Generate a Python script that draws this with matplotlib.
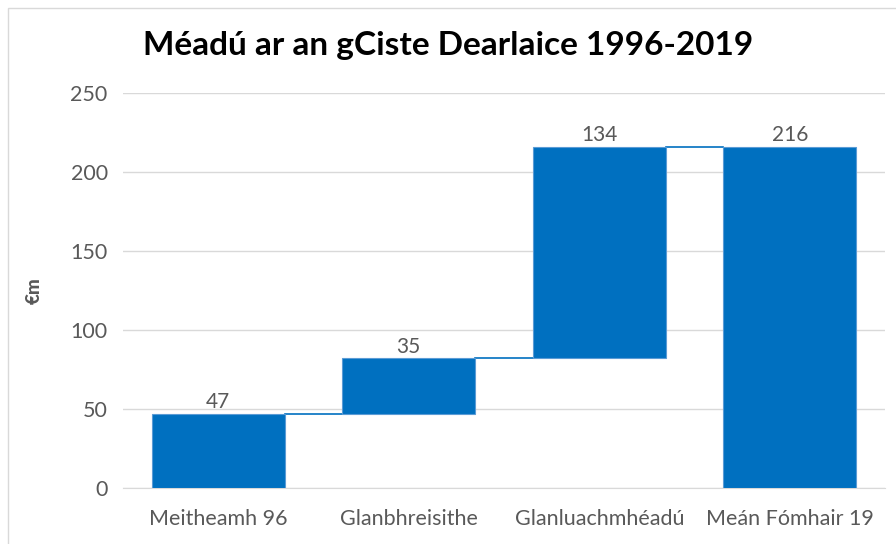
import matplotlib.pyplot as plt
from matplotlib.patches import Rectangle

# waterfall data (€m)
categories = ["Meitheamh 96", "Glanbhreisithe", "Glanluachmhéadú", "Meán Fómhair 19"]
changes = [47, 35, 134]
total = 216
labels = ["47", "35", "134", "216"]

blue = "#0070C0"
grey = "#595959"

plt.rcParams['font.family'] = ['Lato', 'DejaVu Sans']

fig = plt.figure(figsize=(8.96, 5.44), dpi=100)
ax = fig.add_axes([123 / 896, 56 / 544, 762 / 896, 395 / 544])

# bottoms / heights of the floating bars
bottoms = []
heights = []
running = 0
for i, c in enumerate(changes):
    bottoms.append(running)
    heights.append(c)
    running += c
bottoms.append(0)
heights.append(total)

x = list(range(len(categories)))
width = 0.7
ax.bar(x, heights, bottom=bottoms, width=width, color=blue,
       edgecolor="#5B9BD5", linewidth=0.8, zorder=3)

# connectors
for i in range(len(x) - 1):
    level = bottoms[i] + heights[i]
    ax.plot([x[i] + width / 2, x[i + 1] - width / 2], [level, level],
            color=blue, lw=1.2, zorder=2)

# value labels
for i in x:
    ax.text(x[i], bottoms[i] + heights[i] + 1.0, labels[i], ha="center", va="bottom",
            fontsize=15, color=grey)

ax.set_xlim(-0.5, 3.5)
ax.set_ylim(0, 250)
ax.set_yticks([0, 50, 100, 150, 200, 250])
ax.set_xticks(x)
ax.set_xticklabels(categories)
ax.tick_params(axis="both", length=0, labelsize=15.5, colors=grey)
ax.tick_params(axis="x", pad=15)
ax.tick_params(axis="y", pad=11)
ax.grid(axis="y", color="#D9D9D9", lw=1, zorder=0)
for s in ["top", "right", "left"]:
    ax.spines[s].set_visible(False)
ax.spines["bottom"].set_color("#D9D9D9")

ax.set_ylabel("€m", fontsize=13.5, fontweight="black", color=grey, labelpad=20)

fig.text(0.5, 1 - 45 / 544, "Méadú ar an gCiste Dearlaice 1996-2019",
         ha="center", va="center", fontsize=24, fontweight="bold", color="black")

# chart border
fig.patches.append(Rectangle((8 / 896, -0.1), 1.2, 1 - 8 / 544 + 0.1,
                             transform=fig.transFigure, fill=False,
                             edgecolor="#D9D9D9", lw=1))

fig.savefig("out.png", dpi=100)
